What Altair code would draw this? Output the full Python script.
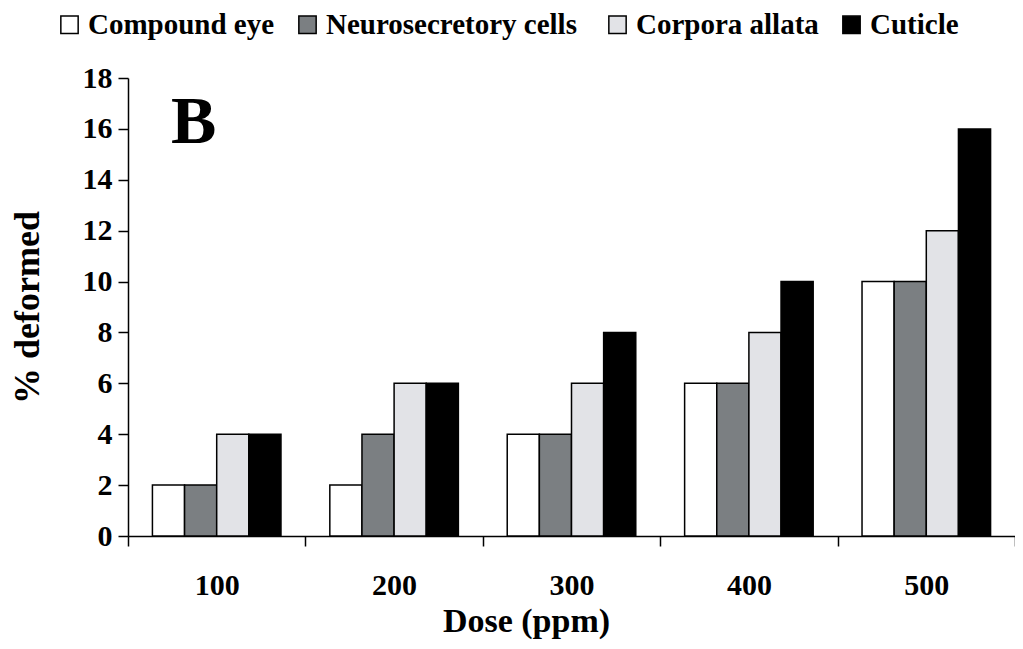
import altair as alt
import pandas as pd

doses = ["100", "200", "300", "400", "500"]
series = ["Compound eye", "Neurosecretory  cells", "Corpora allata", "Cuticle"]
compound_eye = [2, 2, 4, 6, 10]
neurosecretory = [2, 4, 4, 6, 10]
corpora_allata = [4, 6, 6, 8, 12]
cuticle = [4, 6, 8, 10, 16]
colors = ["#ffffff", "#7b7f82", "#e2e3e7", "#000000"]

rows = []
for s, vals in zip(series, [compound_eye, neurosecretory, corpora_allata, cuticle]):
    for d, v in zip(doses, vals):
        rows.append({"dose": d, "series": s, "value": v})
df = pd.DataFrame(rows)

FONT = "Liberation Serif"

bars = alt.Chart(df).mark_bar(stroke="black", strokeWidth=1.5).encode(
    x=alt.X("dose:N", sort=doses,
            scale=alt.Scale(paddingInner=0, paddingOuter=0),
            axis=alt.Axis(title="Dose (ppm)", labelAngle=0, tickBand="extent",
                          labelFontSize=30, titleFontSize=34, labelPadding=24,
                          titlePadding=4, titleX=398, titleAlign="center",
                          tickSize=10, domainColor="black",
                          tickColor="black", domainWidth=1.5, tickWidth=1.5)),
    xOffset=alt.XOffset("series:N", sort=series,
                        scale=alt.Scale(paddingInner=0, paddingOuter=0.76)),
    y=alt.Y("value:Q", scale=alt.Scale(domain=[0, 18], nice=False),
            axis=alt.Axis(title="% deformed", values=list(range(0, 19, 2)),
                          labelFontSize=30, titleFontSize=36, tickSize=10,
                          labelPadding=6, titlePadding=36, domainColor="black",
                          tickColor="black", domainWidth=1.5, tickWidth=1.5)),
    color=alt.Color("series:N", sort=series,
                    scale=alt.Scale(domain=series, range=colors),
                    legend=alt.Legend(title=None, orient="none", direction="horizontal",
                                      legendX=-73, legendY=-68,
                                      symbolType="square", symbolSize=300,
                                      symbolStrokeColor="black", symbolStrokeWidth=1.5,
                                      symbolOpacity=1, labelFontSize=29,
                                      labelOffset=4, columnPadding=18, labelLimit=0,
                                      labelFont=FONT, labelFontWeight="bold",
                                      labelColor="black")),
)

label = alt.Chart(pd.DataFrame({"dose": ["100"], "value": [16.25], "t": ["B"]})).mark_text(
    font=FONT, fontWeight="bold", fontSize=68, dx=-23, baseline="middle", color="black"
).encode(x=alt.X("dose:N", sort=doses), y="value:Q", text="t:N")

chart = alt.layer(bars, label).properties(
    width=887, height=458,
    padding={"left": 120, "top": 70, "right": 0, "bottom": 104},
    autosize=alt.AutoSizeParams(type="none"),
).configure_view(stroke=None).configure_axis(
    grid=False, labelFont=FONT, titleFont=FONT, labelFontWeight="bold",
    titleFontWeight="bold", labelColor="black", titleColor="black"
)

chart.save("out.html", embed_options={"renderer": "svg", "actions": False})
